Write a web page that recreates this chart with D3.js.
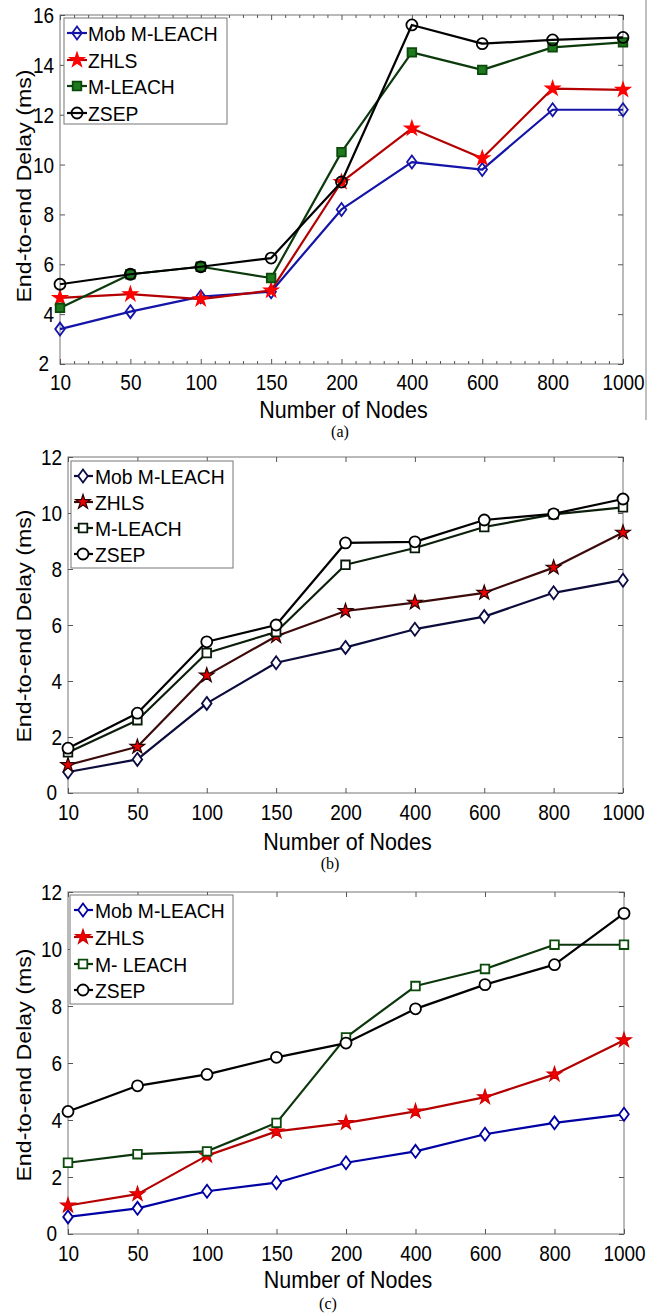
<!DOCTYPE html>
<html>
<head>
<meta charset="utf-8">
<script src="https://cdn.jsdelivr.net/npm/d3@7"></script>
<style>
body { margin: 0; background: #fff; }
text { font-family: Arial, "Liberation Sans", sans-serif; fill: #000; }
</style>
</head>
<body>
<script>
var width = 659,
	height = 1314;

// x categories (number of nodes), same for all three panels
var nodes = ["10", "50", "100", "150", "200", "400", "600", "800", "1000"];

var namesAB = ["Mob M-LEACH", "ZHLS", "M-LEACH", "ZSEP"];
var namesC = ["Mob M-LEACH", "ZHLS", "M- LEACH", "ZSEP"];

// panel (a)
var ticksA = [2, 4, 6, 8, 10, 12, 14, 16];
var mobA = [3.4, 4.1, 4.7, 4.9, 8.2, 10.1, 9.8, 12.2, 12.2];
var zhlsA = [4.65, 4.8, 4.6, 4.95, 9.3, 11.45, 10.25, 13.05, 13.0];
var mleachA = [4.25, 5.6, 5.9, 5.45, 10.5, 14.5, 13.8, 14.7, 14.9];
var zsepA = [5.2, 5.6, 5.9, 6.25, 9.3, 15.6, 14.85, 15.0, 15.1];

// panel (b)
var ticksB = [0, 2, 4, 6, 8, 10, 12];
var mobB = [0.75, 1.2, 3.2, 4.65, 5.2, 5.85, 6.3, 7.15, 7.6];
var zhlsB = [1.0, 1.65, 4.2, 5.6, 6.5, 6.8, 7.15, 8.05, 9.3];
var mleachB = [1.45, 2.6, 5.0, 5.75, 8.15, 8.75, 9.5, 9.95, 10.2];
var zsepB = [1.6, 2.85, 5.4, 6.0, 8.93, 8.97, 9.75, 9.97, 10.5];

// panel (c)
var ticksC = [0, 2, 4, 6, 8, 10, 12];
var mobC = [0.6, 0.9, 1.5, 1.8, 2.5, 2.9, 3.5, 3.9, 4.2];
var zhlsC = [1.0, 1.4, 2.75, 3.6, 3.9, 4.3, 4.8, 5.6, 6.8];
var mleachC = [2.5, 2.8, 2.9, 3.9, 6.9, 8.7, 9.3, 10.15, 10.15];
var zsepC = [4.3, 5.2, 5.6, 6.2, 6.7, 7.9, 8.75, 9.45, 11.25];

var stretch = 1.12; // the source picture is a bit taller than wide

var svg = d3.select("body")
	.append("svg")
	.attr("width", width)
	.attr("height", height);

// stray vertical line at the right of panel (a)
svg.append("line")
	.attr("x1", 646).attr("x2", 646)
	.attr("y1", 0).attr("y2", 420)
	.attr("stroke", "#aaa")
	.attr("stroke-width", 1.5);

var panels = [
	{
		left: 60, right: 623, top: 15, bottom: 364,
		domain: [2, 16], yTicks: ticksA, names: namesAB,
		series: [mobA, zhlsA, mleachA, zsepA],
		minor: true,
		lineColors: ["#1414a8", "#b40000", "#0c3a0c", "#000"],
		markStroke: ["#1414a8", "#ff0000", "#0b4a0b", "#000"],
		markFill: ["none", "#ff0000", "#1f7a1f", "none"],
		legend: { x: 64, y: 18, w: 163, h: 106, rows: [33, 60, 86, 113], mx: 77, l1: 67, l2: 87, tx: 88 },
		xLabelY: 390, titleY: 418, captionY: 437, caption: "(a)", captionX: 340,
		yLabelY: 186
	},
	{
		left: 68, right: 623, top: 457, bottom: 793,
		domain: [0, 12], yTicks: ticksB, names: namesAB,
		series: [mobB, zhlsB, mleachB, zsepB],
		minor: false,
		lineColors: ["#0c0c3c", "#3c0a0a", "#0a1e0a", "#000"],
		markStroke: ["#0c0c44", "#2a0000", "#0a1a0a", "#000"],
		markFill: ["#fff", "#e80000", "#fff", "#fff"],
		legend: { x: 71, y: 461, w: 162, h: 107, rows: [476, 502, 528, 554], mx: 83, l1: 74, l2: 93, tx: 95 },
		xLabelY: 820, titleY: 850, captionY: 869, caption: "(b)", captionX: 330,
		yLabelY: 626
	},
	{
		left: 68, right: 624, top: 892, bottom: 1234,
		domain: [0, 12], yTicks: ticksC, names: namesC,
		series: [mobC, zhlsC, mleachC, zsepC],
		minor: false,
		lineColors: ["#0000a4", "#b40000", "#0c360c", "#000"],
		markStroke: ["#0000a4", "#d00000", "#0a4a0a", "#000"],
		markFill: ["#fff", "#f00000", "#fff", "#fff"],
		legend: { x: 70, y: 895, w: 163, h: 109, rows: [910, 937, 964, 990], mx: 83, l1: 74, l2: 93, tx: 95 },
		xLabelY: 1261, titleY: 1288, captionY: 1309, caption: "(c)", captionX: 328,
		yLabelY: 1065
	}
];

// marker shapes: diamond, star, square, circle
function markerPath(i) {
	if (i === 0) return "M0,-6.5L4.8,0L0,6.5L-4.8,0Z";
	if (i === 1) return d3.symbol(d3.symbolStar, 66)();
	if (i === 2) return "M-4.3,-4.3H4.3V4.3H-4.3Z";
	return d3.symbol(d3.symbolCircle, 95)();
}

// put a text at (x, y) and stretch it vertically
function tallText(sel, x, y, k) {
	return sel.attr("x", 0).attr("y", 0)
		.attr("transform", "translate(" + x + "," + y + ") scale(1," + k + ")");
}

panels.forEach(function(p) {
	var g = svg.append("g");

	var x = d3.scalePoint().domain(nodes).range([p.left, p.right]).padding(0);
	var y = d3.scaleLinear().domain(p.domain).range([p.bottom, p.top]);

	// frame
	g.append("rect")
		.attr("x", p.left).attr("y", p.top)
		.attr("width", p.right - p.left).attr("height", p.bottom - p.top)
		.attr("fill", "none").attr("stroke", "#777").attr("stroke-width", 1);

	// ticks pointing inwards on all four sides
	var bottomAxis = g.append("g")
		.attr("transform", "translate(0," + p.bottom + ")")
		.call(d3.axisBottom(x).tickSize(-5).tickPadding(0));
	bottomAxis.selectAll("text")
		.attr("dy", 0)
		.style("font-size", "19px").style("font-family", "Arial, 'Liberation Sans', sans-serif")
		.each(function() {
			tallText(d3.select(this), 0, p.xLabelY - p.bottom, stretch);
		});

	g.append("g")
		.attr("transform", "translate(0," + p.top + ")")
		.call(d3.axisTop(x).tickSize(-5).tickFormat(""));

	var leftAxis = g.append("g")
		.attr("transform", "translate(" + p.left + ",0)")
		.call(d3.axisLeft(y).tickValues(p.yTicks).tickSize(-5).tickPadding(4));
	leftAxis.selectAll("text")
		.attr("dy", 0)
		.style("font-size", "19px").style("font-family", "Arial, 'Liberation Sans', sans-serif")
		.each(function(d, i) {
			// the lowest label sits just left of the first x label
			if (i === 0) tallText(d3.select(this), -11, 6, stretch);
			else tallText(d3.select(this), -6, 7.5, stretch);
		});

	g.append("g")
		.attr("transform", "translate(" + p.right + ",0)")
		.call(d3.axisRight(y).tickValues(p.yTicks).tickSize(-5).tickFormat(""));

	if (p.minor) {
		var xi = d3.scaleLinear().domain([0, nodes.length - 1]).range([p.left, p.right]);
		var minorVals = d3.range(0, nodes.length - 1, 0.2).filter(function(v) {
			return Math.abs(v - Math.round(v)) > 0.01;
		});
		g.append("g")
			.attr("transform", "translate(0," + p.bottom + ")")
			.call(d3.axisBottom(xi).tickValues(minorVals).tickSize(-3).tickFormat(""));
		g.append("g")
			.attr("transform", "translate(0," + p.top + ")")
			.call(d3.axisTop(xi).tickValues(minorVals).tickSize(-3).tickFormat(""));
	}

	g.selectAll(".domain").remove();
	g.selectAll(".tick line").attr("stroke", "#555");

	// series lines and markers
	var line = d3.line()
		.x(function(d, i) { return x(nodes[i]); })
		.y(function(d) { return y(d); });

	p.series.forEach(function(vals, s) {
		g.append("path")
			.datum(vals)
			.attr("d", line)
			.attr("fill", "none")
			.attr("stroke", p.lineColors[s])
			.attr("stroke-width", 2.2)
			.attr("stroke-linejoin", "round");

		g.selectAll(".m" + s)
			.data(vals)
			.enter().append("path")
			.attr("class", "m" + s)
			.attr("d", markerPath(s))
			.attr("transform", function(d, i) {
				return "translate(" + x(nodes[i]) + "," + y(d) + ")";
			})
			.attr("fill", p.markFill[s])
			.attr("stroke", p.markStroke[s])
			.attr("stroke-width", s === 1 ? 1.2 : 1.8);
	});

	// legend
	var L = p.legend;
	g.append("rect")
		.attr("x", L.x).attr("y", L.y).attr("width", L.w).attr("height", L.h)
		.attr("fill", "#fff").attr("stroke", "#777").attr("stroke-width", 1);

	p.names.forEach(function(name, s) {
		var ry = L.rows[s];
		g.append("line")
			.attr("x1", L.l1).attr("x2", L.l2).attr("y1", ry).attr("y2", ry)
			.attr("stroke", p.lineColors[s]).attr("stroke-width", 2.2);
		g.append("path")
			.attr("d", markerPath(s))
			.attr("transform", "translate(" + L.mx + "," + ry + ")")
			.attr("fill", p.markFill[s])
			.attr("stroke", p.markStroke[s])
			.attr("stroke-width", s === 1 ? 1.2 : 1.8);
		tallText(g.append("text"), L.tx, ry + 7.5, 1.07)
			.style("font-size", "19.3px")
			.text(name);
	});

	// axis titles
	tallText(g.append("text"), (p.left + p.right) / 2 + 2, p.titleY, 1.08)
		.attr("text-anchor", "middle")
		.style("font-size", "21.5px")
		.text("Number of Nodes");

	g.append("text")
		.attr("transform", "translate(31," + p.yLabelY + ") rotate(-90) scale(1.16,1)")
		.attr("text-anchor", "middle")
		.style("font-size", "20px")
		.text("End-to-end Delay (ms)");

	g.append("text")
		.attr("x", p.captionX).attr("y", p.captionY)
		.attr("text-anchor", "middle")
		.style("font-family", "'Liberation Serif', 'Times New Roman', serif")
		.style("font-size", "16px")
		.text(p.caption);
});
</script>
</body>
</html>
